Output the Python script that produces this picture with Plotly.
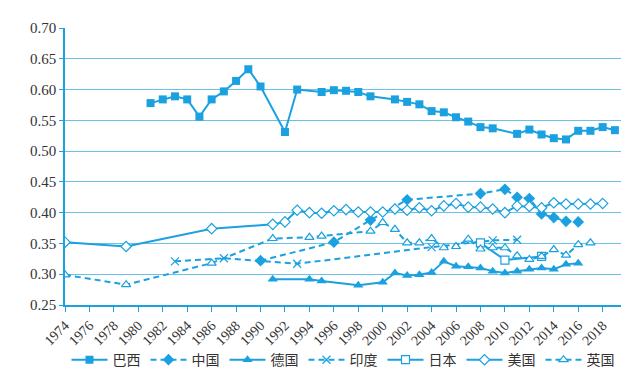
import plotly.graph_objects as go

# ---- data ----
brazil_years = [1981, 1982, 1983, 1984, 1985, 1986, 1987, 1988, 1989, 1990, 1992, 1993,
                1995, 1996, 1997, 1998, 1999, 2001, 2002, 2003, 2004, 2005, 2006, 2007,
                2008, 2009, 2011, 2012, 2013, 2014, 2015, 2016, 2017, 2018, 2019]
brazil_vals = [0.578, 0.584, 0.589, 0.584, 0.556, 0.584, 0.597, 0.614, 0.633, 0.605, 0.531, 0.600,
               0.596, 0.599, 0.598, 0.596, 0.589, 0.584, 0.580, 0.576, 0.565, 0.563, 0.555, 0.548,
               0.539, 0.537, 0.528, 0.535, 0.527, 0.521, 0.519, 0.533, 0.533, 0.539, 0.534]

china_years = [1990, 1996, 1999, 2002, 2008, 2010, 2011, 2012, 2013, 2014, 2015, 2016]
china_vals = [0.322, 0.352, 0.388, 0.421, 0.431, 0.438, 0.425, 0.423, 0.398, 0.392, 0.386, 0.385]

germany_years = [1991, 1994, 1995, 1998, 2000, 2001, 2002, 2003, 2004, 2005, 2006, 2007,
                 2008, 2009, 2010, 2011, 2012, 2013, 2014, 2015, 2016]
germany_vals = [0.292, 0.292, 0.289, 0.282, 0.287, 0.302, 0.298, 0.299, 0.303, 0.321, 0.313, 0.312,
                0.310, 0.305, 0.302, 0.305, 0.308, 0.310, 0.308, 0.316, 0.318]

india_years = [1983, 1987, 1993, 2004, 2009, 2011]
india_vals = [0.321, 0.326, 0.317, 0.344, 0.355, 0.356]

japan_years = [2008, 2010, 2013]
japan_vals = [0.351, 0.323, 0.329]

usa_years = [1974, 1979, 1986, 1991, 1992, 1993, 1994, 1995, 1996, 1997, 1998, 1999, 2000,
             2001, 2002, 2003, 2004, 2005, 2006, 2007, 2008, 2009, 2010, 2011, 2012, 2013,
             2014, 2015, 2016, 2017, 2018]
usa_vals = [0.352, 0.345, 0.374, 0.381, 0.385, 0.404, 0.400, 0.399, 0.403, 0.405, 0.401, 0.401, 0.401,
            0.406, 0.404, 0.408, 0.403, 0.411, 0.415, 0.409, 0.409, 0.406, 0.400, 0.411, 0.410, 0.408,
            0.416, 0.414, 0.414, 0.414, 0.415]

uk_years = [1974, 1979, 1986, 1991, 1994, 1995, 1999, 2000, 2001, 2002, 2003, 2004, 2005, 2006,
            2007, 2008, 2009, 2010, 2011, 2012, 2013, 2014, 2015, 2016, 2017]
uk_vals = [0.299, 0.283, 0.318, 0.358, 0.360, 0.362, 0.370, 0.384, 0.373, 0.351, 0.351, 0.358, 0.343, 0.345,
           0.357, 0.341, 0.343, 0.343, 0.330, 0.324, 0.329, 0.340, 0.331, 0.348, 0.351]

x_ticks = list(range(1974, 2019, 2))
y_ticks = [0.25, 0.30, 0.35, 0.40, 0.45, 0.50, 0.55, 0.60, 0.65, 0.70]

C = "#1BA1DF"
GRID = "#6CC2E6"

fig = go.Figure()

def add(name, xs, ys, symbol, filled, dashed, size):
    fig.add_trace(go.Scatter(
        x=xs, y=ys, name=name, mode="lines+markers",
        line=dict(color=C, width=2, dash="6px,4px" if dashed else "solid"),
        marker=dict(symbol=symbol, size=size,
                    color=C if filled else "white",
                    line=dict(color=C, width=1.2 if not filled else 0)),
    ))

add("巴西", brazil_years, brazil_vals, "square", True, False, 8)
add("中国", china_years, china_vals, "diamond", True, True, 9)
add("德国", germany_years, germany_vals, "triangle-up", True, False, 9)
fig.add_trace(go.Scatter(
    x=india_years, y=india_vals, name="印度", mode="lines+markers",
    line=dict(color=C, width=2, dash="6px,4px"),
    marker=dict(symbol="x-thin-open", size=8, color=C, line=dict(color=C, width=1.2)),
))
add("日本", japan_years, japan_vals, "square", False, False, 8)
add("美国", usa_years, usa_vals, "diamond", False, False, 8)
add("英国", uk_years, uk_vals, "triangle-up", False, True, 8)

# page body has an 8px margin: size figure to fit the window
fig.update_layout(
    width=625, height=377,
    margin=dict(l=57, r=12, t=20, b=80, autoexpand=False),
    paper_bgcolor="white", plot_bgcolor="white",
    font=dict(family="Liberation Serif, Noto Sans CJK SC", size=14, color="#333333"),
    showlegend=True,
    legend=dict(orientation="h", xref="container", x=0.536, xanchor="center",
                yref="container", y=0.066, yanchor="middle",
                bgcolor="rgba(0,0,0,0)",
                font=dict(family="Noto Sans CJK SC", size=14, color="#333333"),
                itemwidth=36, tracegroupgap=0),
    xaxis=dict(range=[1974, 2019.5], tickmode="array", tickvals=x_ticks,
               ticktext=[str(v) for v in x_ticks], tickangle=-45,
               showgrid=False, zeroline=False,
               showline=True, linecolor=C, linewidth=1.5,
               ticks="outside", ticklen=5, tickcolor=C,
               tickfont=dict(family="Liberation Serif", size=14, color="#333333")),
    yaxis=dict(range=[0.25, 0.70], tickmode="array", tickvals=y_ticks,
               ticktext=[f"{v:.2f}" for v in y_ticks],
               showgrid=True, gridcolor=GRID, gridwidth=1, zeroline=False,
               showline=True, linecolor=C, linewidth=1.5,
               ticks="outside", ticklen=4, tickcolor=C,
               tickfont=dict(family="Liberation Serif", size=15, color="#333333")),
)

fig.write_html("out.html")
